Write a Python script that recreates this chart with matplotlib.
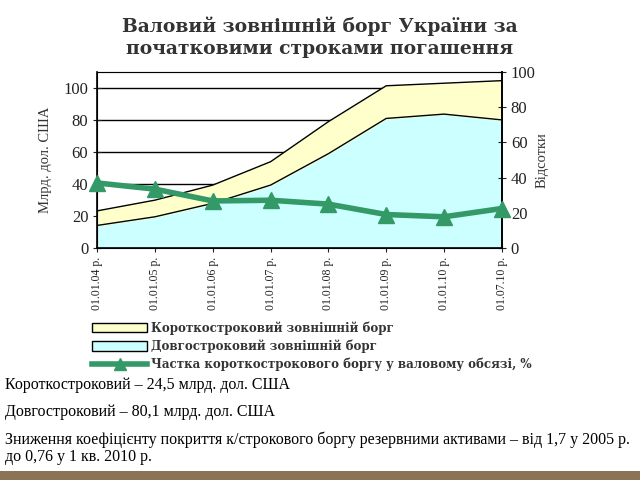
import matplotlib.pyplot as plt
from matplotlib.patches import Patch, Rectangle
from matplotlib.lines import Line2D

plt.rcParams['font.family'] = ['Liberation Serif', 'DejaVu Serif']

# Data
dates = ['01.01.04 р.', '01.01.05 р.', '01.01.06 р.', '01.01.07 р.',
         '01.01.08 р.', '01.01.09 р.', '01.01.10 р.', '01.07.10 р.']
long_term = [14.2, 19.6, 28.0, 39.4, 59.0, 81.0, 83.7, 80.1]
short_term = [9.1, 10.4, 11.4, 14.6, 20.0, 20.4, 19.3, 24.5]
share_pct = [37.0, 33.5, 26.8, 27.2, 25.0, 19.1, 17.8, 22.5]

total = [a + b for a, b in zip(long_term, short_term)]
x = list(range(len(dates)))

fig = plt.figure(figsize=(6.4, 4.8), dpi=100)
ax = fig.add_axes([0.152, 0.483, 0.632, 0.367])

# stacked areas
ax.fill_between(x, 0, long_term, color='#ccffff', zorder=1)
ax.fill_between(x, long_term, total, color='#ffffcc', zorder=1)
ax.plot(x, long_term, color='black', lw=1.0, zorder=2)
ax.plot(x, total, color='black', lw=1.0, zorder=2)

ax.set_xlim(0, len(dates) - 1)
ax.set_ylim(0, 110)
ax.set_yticks([0, 20, 40, 60, 80, 100])
ax.grid(axis='y', color='black', lw=1.0, zorder=0)
ax.set_axisbelow(True)
ax.set_xticks(x)
ax.set_xticklabels(dates, rotation=90, fontsize=8.5)
ax.set_ylabel('Млрд. дол. США', fontsize=10.5, color='#333333', labelpad=8)
ax.tick_params(axis='y', direction='inout', length=6, labelsize=12, colors='#222222')
ax.tick_params(axis='x', direction='inout', length=6, labelsize=8.5, colors='#222222')
for s in ['left', 'bottom', 'right']:
    ax.spines[s].set_linewidth(1.2)
ax.spines['top'].set_color('#888888')
ax.spines['top'].set_linewidth(0.8)

ax2 = ax.twinx()
ax2.plot(x, share_pct, color='#339966', lw=4, marker='^', markersize=11,
         clip_on=False, zorder=3)
ax2.set_ylim(0, 100)
ax2.set_yticks([0, 20, 40, 60, 80, 100])
ax2.tick_params(axis='y', direction='inout', length=6, labelsize=12, colors='#222222')
ax2.set_ylabel('Відсотки', fontsize=10.5, color='#333333', labelpad=0)
ax2.spines['right'].set_linewidth(1.2)

# title
fig.text(0.5, 0.965, 'Валовий зовнішній борг України за\nпочатковими строками погашення',
         ha='center', va='top', fontsize=13.5, fontweight='bold', color='#333333',
         linespacing=1.3, family='DejaVu Serif')

# legend
handles = [Patch(facecolor='#ffffcc', edgecolor='black'),
           Patch(facecolor='#ccffff', edgecolor='black'),
           Line2D([0], [0], color='#339966', lw=4, marker='^', markersize=8)]
labels = ['Короткостроковий зовнішній борг',
          'Довгостроковий зовнішній борг',
          'Частка короткострокового боргу у валовому обсязі, %']
fig.legend(handles, labels, loc='upper left', bbox_to_anchor=(0.135, 0.343),
           frameon=False, handlelength=4.6, handleheight=0.8,
           labelspacing=0.4, handletextpad=0.3, borderpad=0,
           labelcolor='#333333',
           prop={'weight': 'bold', 'size': 8.6, 'family': 'DejaVu Serif'})

# notes below chart
fig.text(0.008, 0.198, 'Короткостроковий – 24,5 млрд. дол. США', fontsize=11.5, va='center')
fig.text(0.008, 0.141, 'Довгостроковий – 80,1 млрд. дол. США', fontsize=11.5, va='center')
fig.text(0.008, 0.083, 'Зниження коефіцієнту покриття к/строкового боргу резервними активами – від 1,7 у 2005 р.',
         fontsize=11.5, va='center')
fig.text(0.008, 0.047, 'до 0,76 у 1 кв. 2010 р.', fontsize=11.5, va='center')

# brown strip at bottom
fig.patches.append(Rectangle((0, 0), 1, 0.019, transform=fig.transFigure,
                             facecolor='#8b7358', edgecolor='none'))

plt.savefig('out.png', dpi=100)
